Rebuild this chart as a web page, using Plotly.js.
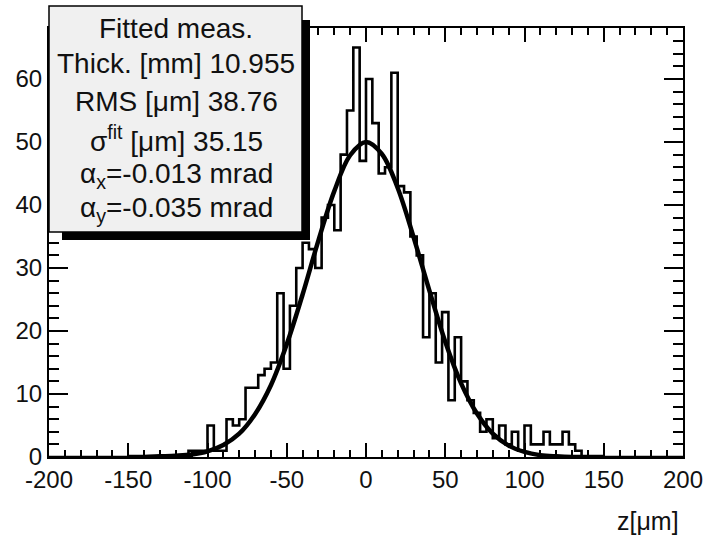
<!DOCTYPE html>
<html><head><meta charset="utf-8">
<script src="https://cdn.plot.ly/plotly-3.0.1.min.js"></script>
<style>html,body{margin:0;padding:0;background:#fff;} #chart{width:706px;height:535px;}</style>
</head><body><div id="chart"></div>
<script>
// ---- data ----
const binLow = -200;
const binWidth = 4;
const counts = [
  0,0,0,0,0,0,0,0,0,0, 0,0,0,0,0,0,0,0,0,0, 0,
  0,1,1,1,5,1,1,6,5,6,11,11,13,14,15,26,14,24,30,34,33,30,38,40,36,48,55,65,47,60,
  53,45,46,61,43,42,35,32,19,26,15,23,9,19,12,9,7,4,6,3,5,2,4,1,5,2,2,4,2,2,4,2,1,
  0,0,0,0,0,0,0,0,0,0, 0,0,0,0,0,0
];
const fitX = [-150,-140,-130,-120,-110,-100,-90,-80,-70,-60,-50,-40,-30,-20,-10,0,10,20,30,40,50,60,70,80,90,100,110,120,130,140,150];
const fitY = [0.0,0.0,0.1,0.2,0.4,0.9,1.9,3.7,6.8,11.4,17.9,25.8,34.4,42.2,47.9,50.0,48.1,42.7,34.9,26.4,18.3,11.7,6.9,3.7,1.8,0.8,0.3,0.1,0.0,0.0,0.0];
const statsLines = ["Fitted meas.", "Thick. [mm] 10.955", "RMS [μm] 38.76", "σ<sup>fit</sup> [μm] 35.15", "α<sub>x</sub>=-0.013 mrad", "α<sub>y</sub>=-0.035 mrad"];
const xTickVals = [-200,-150,-100,-50,0,50,100,150,200];
const yTickVals = [0,10,20,30,40,50,60];
const xTitle = "z[μm]";

// ---- build step outline from bins ----
const edgesX = [], stepY = [];
for (let i = 0; i < counts.length; i++) { edgesX.push(binLow + i * binWidth); stepY.push(counts[i]); }
edgesX.push(binLow + counts.length * binWidth); stepY.push(counts[counts.length - 1]);

// pixel helpers for decorations (plot area 49..683 x, 28..457 y)
const L = 49, R = 683, T = 28, B = 457;
const px = v => (v - L) / (R - L);
const py = v => (B - v) / (B - T);

const font = "Liberation Sans, Arial, Helvetica, sans-serif";

const traces = [
  { x: edgesX, y: stepY, type: 'scatter', mode: 'lines', line: { shape: 'hv', color: '#000', width: 2.6 }, hoverinfo: 'skip' },
  { x: fitX, y: fitY, type: 'scatter', mode: 'lines', line: { shape: 'spline', smoothing: 1, color: '#000', width: 4.5 }, hoverinfo: 'skip' }
];

const lineYs = [28, 63, 101, 139, 175, 209];
const annotations = statsLines.map((t, i) => ({
  text: t, xref: 'paper', yref: 'paper', x: px(176), y: py(lineYs[i]),
  xanchor: 'center', yanchor: 'middle', showarrow: false,
  font: { family: font, size: 28, color: '#111' }
}));
annotations.push({
  text: xTitle, xref: 'paper', yref: 'paper', x: px(681), y: py(521),
  xanchor: 'right', yanchor: 'middle', showarrow: false,
  font: { family: font, size: 25, color: '#111' }
});

const shapes = [
  { type: 'rect', xref: 'paper', yref: 'paper', x0: px(302), x1: px(310), y0: py(240), y1: py(20), fillcolor: '#000', line: { width: 0 }, layer: 'above' },
  { type: 'rect', xref: 'paper', yref: 'paper', x0: px(62), x1: px(310), y0: py(240), y1: py(232), fillcolor: '#000', line: { width: 0 }, layer: 'above' },
  { type: 'rect', xref: 'paper', yref: 'paper', x0: px(49), x1: px(302), y0: py(232), y1: py(6), fillcolor: '#f0f0f0', line: { width: 1.5, color: '#000' }, layer: 'above' }
];

const layout = {
  width: 706, height: 535,
  margin: { l: 49, r: 23, t: 28, b: 78 },
  paper_bgcolor: '#fff', plot_bgcolor: '#fff',
  showlegend: false,
  font: { family: font, size: 24, color: '#111' },
  xaxis: {
    range: [-200, 200], tickmode: 'array', tickvals: xTickVals, ticktext: xTickVals.map(String),
    ticks: 'inside', ticklen: 14, tickwidth: 2, tickcolor: '#000',
    minor: { dtick: 10, ticks: 'inside', ticklen: 7, tickwidth: 2, tickcolor: '#000', showgrid: false },
    showline: true, linecolor: '#000', linewidth: 2, mirror: 'ticks',
    showgrid: false, zeroline: false, tickfont: { family: font, size: 24, color: '#111' }
  },
  yaxis: {
    range: [0, 68.1], tickmode: 'array', tickvals: yTickVals, ticktext: yTickVals.map(String),
    ticks: 'inside', ticklen: 19, tickwidth: 2, tickcolor: '#000',
    minor: { dtick: 2, ticks: 'inside', ticklen: 10, tickwidth: 2, tickcolor: '#000', showgrid: false },
    showline: true, linecolor: '#000', linewidth: 2, mirror: 'ticks',
    showgrid: false, zeroline: false, tickfont: { family: font, size: 24, color: '#111' }
  },
  shapes: shapes,
  annotations: annotations
};

Plotly.newPlot('chart', traces, layout, { displayModeBar: false, staticPlot: true });
</script>
</body></html>
